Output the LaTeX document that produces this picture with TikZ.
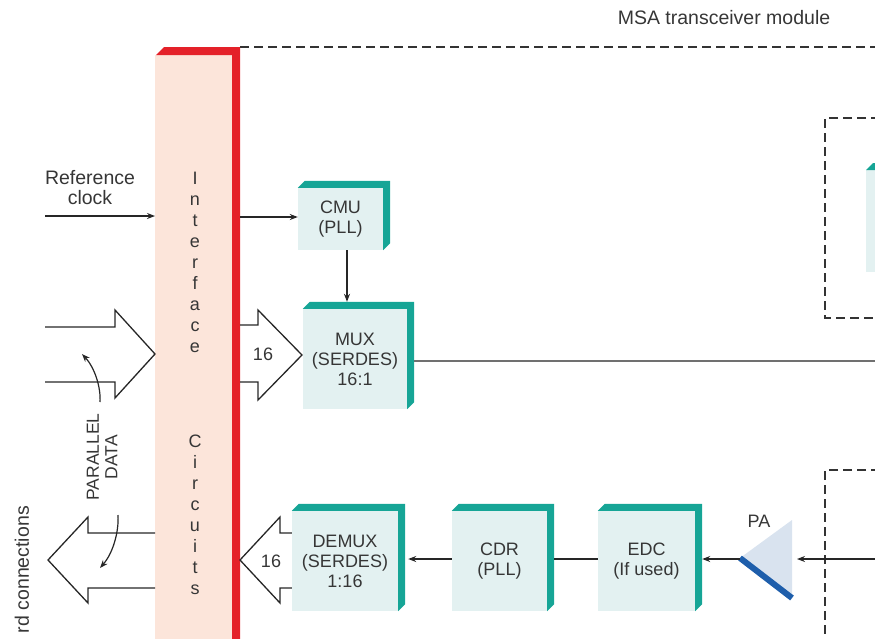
\documentclass[tikz,border=0pt]{standalone}
\usepackage{fontspec}
\setmainfont{Liberation Sans}
\usetikzlibrary{arrows.meta,calc}
\definecolor{pinkband}{HTML}{FCE5DA}
\definecolor{redbar}{HTML}{E42129}
\definecolor{tealc}{HTML}{16A596}
\definecolor{faceblue}{HTML}{E3F1F1}
\definecolor{paface}{HTML}{D9E3EF}
\definecolor{pablue}{HTML}{1E5EAB}
\definecolor{txt}{HTML}{363636}
\definecolor{linegray}{HTML}{707070}
\newcommand\tealcap[1]{\fill[tealc] (#1.north west) -- ([xshift=7pt,yshift=7pt]#1.north west) -- ([xshift=7pt,yshift=7pt]#1.north east) -- ([xshift=7pt,yshift=7pt]#1.south east) -- (#1.south east) -- (#1.north east) -- cycle;}
\begin{document}
\begin{tikzpicture}[x=1pt,y=-1pt,
  every node/.style={text=txt, font=\fontsize{18}{20}\selectfont},
  blockface/.style={fill=faceblue, inner sep=0pt, align=center},
  arr/.style={-{Stealth[length=8pt,width=6pt]}, line width=1.2pt, draw=black!85},
  plain/.style={line width=1.2pt, draw=black!85},
  hollow/.style={line width=1.3pt, draw=black!85, line join=miter},
  dashline/.style={line width=1.4pt, draw=black!80, dash pattern=on 9pt off 5pt},
  grayline/.style={line width=2pt, draw=linegray},
  stacked/.style={align=center, font=\fontsize{18}{21}\selectfont},
  biglabel/.style={align=center, font=\fontsize{19.5}{20}\selectfont},
]
\useasboundingbox (0,0) rectangle (875,638);
\clip (0,0) rectangle (875,638);

% title and module outline
\node[biglabel] (title) at (724,18) {MSA transceiver module};
\draw[dashline] (240,47) -- (880,47);
\draw[dashline] (880,118) -- (825,118) -- (825,318) -- (880,318);
\draw[dashline] (880,470) -- (825,470) -- (825,645);

% partial block in upper dashed box
\fill[faceblue] (866,170) rectangle (880,272);
\fill[tealc] (866,170) -- (873,163) -- (880,163) -- (880,170) -- cycle;

% interface band
\node[fill=pinkband, minimum width=77pt, minimum height=600pt, anchor=north west, inner sep=0pt] (band) at (155,55) {};
\fill[redbar] (156,55) -- (164,47) -- (240,47) -- (240,645) -- (232,645) -- (232,55) -- cycle;
\node[stacked] (ifacetxt) at (195,262) {I\\n\\t\\e\\r\\f\\a\\c\\e};
\node[stacked] (circtxt) at (195,515) {C\\i\\r\\c\\u\\i\\t\\s};

% blocks
\node[blockface, minimum width=85pt, minimum height=62pt] (cmu) at (340.5,219) {CMU\\(PLL)};
\node[blockface, minimum width=104pt, minimum height=100pt] (mux) at (355,359) {MUX\\(SERDES)\\16:1};
\node[blockface, minimum width=106pt, minimum height=100pt] (demux) at (345,561) {DEMUX\\(SERDES)\\1:16};
\node[blockface, minimum width=95pt, minimum height=100pt] (cdr) at (499.5,561) {CDR\\(PLL)};
\node[blockface, minimum width=97pt, minimum height=100pt] (edc) at (646.5,561) {EDC\\(If used)};
\tealcap{cmu}
\tealcap{mux}
\tealcap{demux}
\tealcap{cdr}
\tealcap{edc}

% reference clock
\node[biglabel] (reflbl) at (90,188) {Reference\\clock};
\coordinate (refin) at (45,216);
\draw[arr] (refin) -- (band.west |- refin);
\coordinate (cmuin) at (240,217);
\draw[arr] (cmuin) -- (cmu.west |- cmuin);
\coordinate (cmuout) at ([xshift=6.5pt]cmu.south);
\coordinate (muxtop) at ([yshift=7pt]mux.north);
\draw[arr] (cmuout) -- (cmuout |- muxtop);

% serial out
\coordinate (txout) at (875,361);
\draw[grayline] ([xshift=7pt]mux.east |- txout) -- (txout);

% receive chain
\coordinate (pat) at (740,558);
\coordinate (patr) at (792,520);
\coordinate (pabr) at (792,598);
\fill[paface] (pat) -- (patr) -- (pabr) -- cycle;
\draw[pablue, line width=6pt] (pat) -- (pabr);
\node (palbl) at (759,521) {PA};
\coordinate (rxin) at (875,559);
\draw[arr] (rxin) -- ([xshift=5pt]patr |- rxin);
\draw[arr] (pat |- rxin) -- ([xshift=7pt]edc.east |- rxin);
\draw[plain] ([xshift=7pt]cdr.east |- rxin) -- (edc.west |- rxin);
\draw[arr] (cdr.west |- rxin) -- ([xshift=10pt]demux.east |- rxin);

% hollow arrows
\draw[hollow] (240,325) -- (258,325) -- (258,310) -- (302,355) -- (258,400) -- (258,382) -- (240,382);
\node (sixteenA) at (263,354) {16};
\draw[hollow] (demux.west |- 0,533) -- (280,533) -- (280,517) -- (240,560) -- (280,603) -- (280,588) -- (demux.west |- 0,588);
\node (sixteenB) at (271,561) {16};
\draw[hollow] (45,327) -- (115,327) -- (115,310) -- (155,354) -- (115,398) -- (115,382) -- (45,382);
\draw[hollow] (155,533) -- (88,533) -- (88,517) -- (48,560) -- (88,603) -- (88,588) -- (155,588);

% curved indicators
\draw[arr] (100,402) .. controls (101,388) and (95,368) .. (82,354);
\draw[arr] (118,515) .. controls (119,532) and (113,553) .. (100,568);
\node[rotate=90, align=center, font=\fontsize{17.5}{18.5}\selectfont] (pdata) at (102,457) {PARALLEL\\DATA};
\node[rotate=90, anchor=east, inner sep=0pt, font=\fontsize{19.5}{20}\selectfont] (boardc) at (22,506) {rd connections};
\end{tikzpicture}
\end{document}
